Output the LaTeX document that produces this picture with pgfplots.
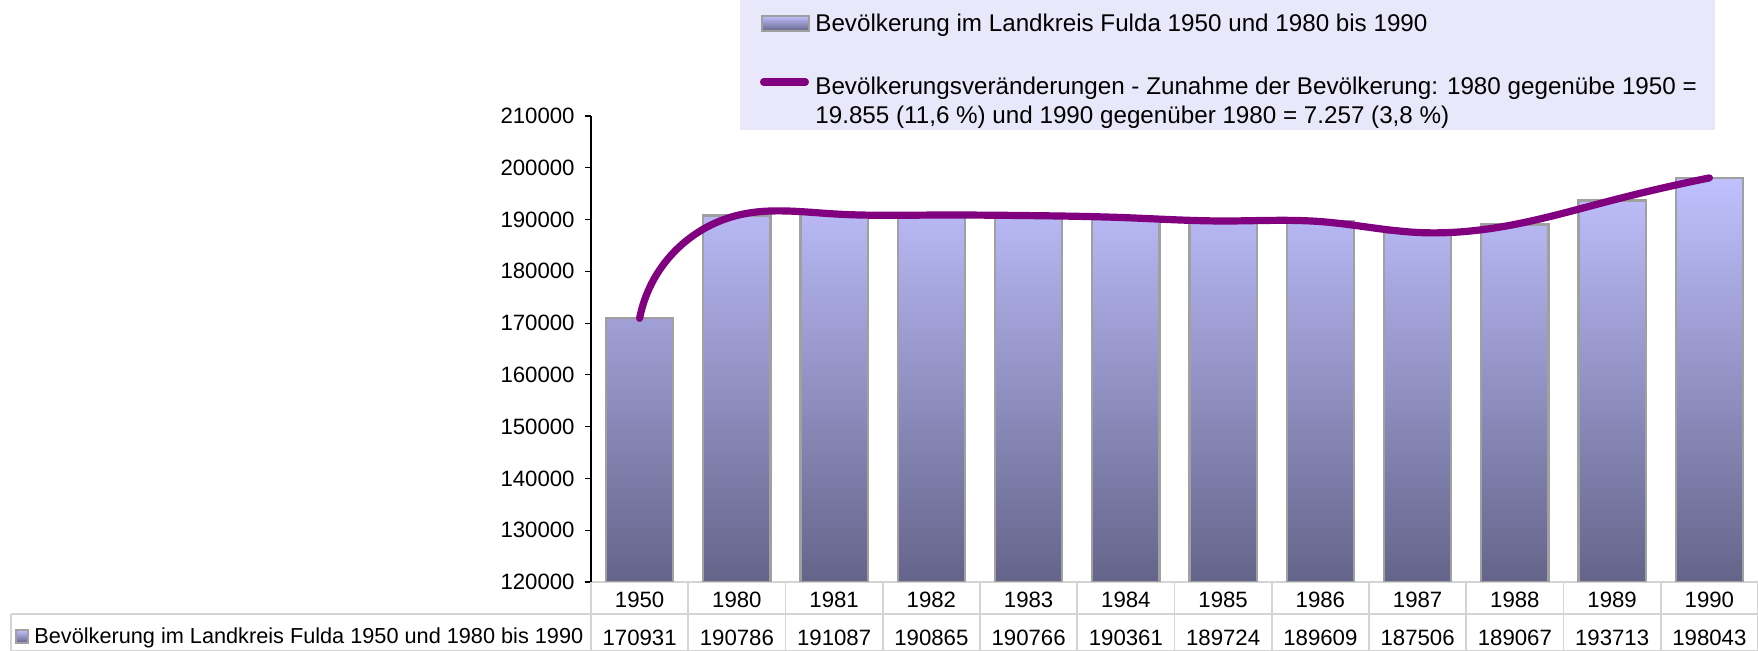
\documentclass[border=0pt]{standalone}
\usepackage{fontspec}
\setmainfont{Liberation Sans}
\usepackage{pgfplots}
\usepackage{pgfplotstable}
\usetikzlibrary{hobby}
\pgfplotsset{compat=1.18}
\definecolor{barTop}{RGB}{192,192,255}
\definecolor{barBot}{RGB}{100,100,138}
\definecolor{barEdge}{RGB}{160,160,160}
\definecolor{lineCol}{RGB}{128,0,128}
\definecolor{legFill}{RGB}{232,232,250}
\definecolor{gridc}{RGB}{212,212,212}

\pgfplotstableread{
i year v
0 1950 170931
1 1980 190786
2 1981 191087
3 1982 190865
4 1983 190766
5 1984 190361
6 1985 189724
7 1986 189609
8 1987 187506
9 1988 189067
10 1989 193713
11 1990 198043
}\data

\begin{document}
\begin{tikzpicture}[font=\fontsize{11.1}{13.3}\selectfont]
\useasboundingbox (-295.5pt,-34.5pt) rectangle (583.5pt,291pt);
% legend box
\fill[legFill] (74.5pt,226pt) rectangle (562pt,291pt);

\begin{axis}[at={(0,0)}, anchor=south west, scale only axis,
  width=583.5pt, height=233pt,
  xmin=-0.5, xmax=11.5, ymin=120000, ymax=210000,
  ybar stacked, bar width=33.6pt,
  ytick={120000,130000,...,210000},
  scaled y ticks=false,
  yticklabel style={anchor=east, inner sep=0pt, xshift=-5pt,
    /pgf/number format/fixed, /pgf/number format/precision=0,
    /pgf/number format/1000 sep={}, /pgf/number format/assume math mode=true},
  axis x line*=bottom, axis y line*=left,
  axis line style={-},
  x axis line style={draw=gridc, line width=0.8pt},
  y axis line style={draw=black, line width=0.6pt},
  tick align=outside, major tick length=3pt,
  ytick style={draw=black, line width=0.6pt},
  xtick style={draw=none},
  xtick={0,...,11},
  xticklabels={1950,1980,1981,1982,1983,1984,1985,1986,1987,1988,1989,1990},
  xticklabel style={anchor=center, inner sep=0pt, yshift=-5.8pt},
  extra x ticks={0,...,11},
  extra x tick labels={170931,190786,191087,190865,190766,190361,189724,189609,187506,189067,193713,198043},
  extra x tick style={xticklabel style={yshift=-19pt}, tick style={draw=none}},
]
\addplot[draw=none, fill=none] table[x=i, y expr=120000] {\data};
\addplot[draw=barEdge, line width=1.2pt, top color=barTop, bottom color=barBot] table[x=i, y expr=\thisrow{v}-120000] {\data};
\end{axis}

\begin{axis}[at={(0,0)}, anchor=south west, scale only axis,
  width=583.5pt, height=233pt,
  xmin=-0.5, xmax=11.5, ymin=120000, ymax=210000,
  hide axis, clip=false]
\addplot[lineCol, line width=3.6pt, hobby, line cap=round, mark=none] table[x=i, y=v] {\data};
\end{axis}

% legend entries
\begin{scope}[font=\fontsize{12.1}{14.5}\selectfont]
\draw[barEdge, line width=0.8pt, top color=barTop, bottom color=barBot] (85.5pt,275.5pt) rectangle (109pt,283pt);
\node[anchor=base west, inner sep=0pt] at (112pt,275pt) {Bevölkerung im Landkreis Fulda 1950 und 1980 bis 1990};
\draw[lineCol, line width=3.6pt, line cap=round] (86.3pt,250pt) -- (107.2pt,250pt);
\node[anchor=base west, inner sep=0pt] at (112pt,243.6pt) {Bevölkerungsveränderungen - Zunahme der Bevölkerung: 1980 gegenübe 1950 =};
\node[anchor=base west, inner sep=0pt] at (112pt,229.1pt) {19.855 (11,6 \%) und 1990 gegenüber 1980 = 7.257 (3,8 \%)};
\end{scope}

% data table grid
\draw[gridc, line width=0.8pt] (-290pt,-16pt) -- (583.5pt,-16pt);
\draw[gridc, line width=0.8pt] (-290pt,-16pt) -- (-290pt,-34.2pt) -- (583.5pt,-34.2pt);
\foreach \k in {0,...,12} \draw[gridc, line width=0.8pt] ({\k*48.625pt},0pt) -- ({\k*48.625pt},-34.5pt);
\draw[barEdge, line width=0.6pt, top color=barTop, bottom color=barBot] (-287.5pt,-30.5pt) rectangle (-281.5pt,-24pt);
\node[anchor=base west, inner sep=0pt, font=\fontsize{10.85}{13}\selectfont] at (-278.5pt,-31pt) {Bevölkerung im Landkreis Fulda 1950 und 1980 bis 1990};
\end{tikzpicture}
\end{document}
